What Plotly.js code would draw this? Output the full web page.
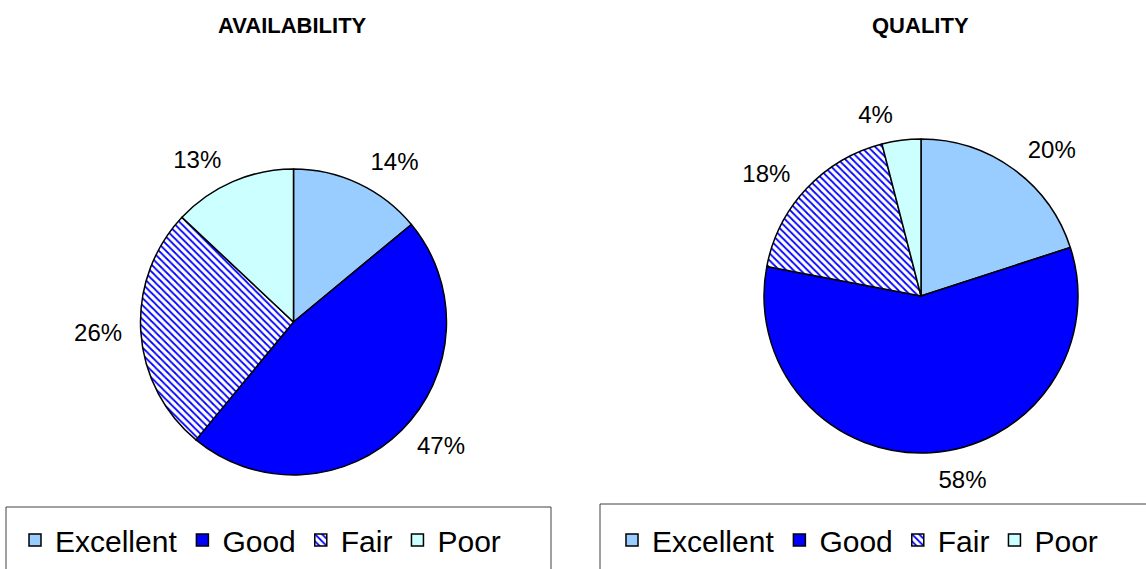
<!DOCTYPE html>
<html>
<head>
<meta charset="utf-8">
<script src="https://cdn.plot.ly/plotly-3.0.1.min.js"></script>
<style>html,body{margin:0;padding:0;background:#fff;}#chart{width:1146px;height:569px;}</style>
</head>
<body>
<div id="chart"></div>
<script>
const categories = ["Excellent", "Good", "Fair", "Poor"];
const availabilityValues = [14, 47, 26, 13];
const qualityValues = [20, 58, 18, 4];
const chartTitles = ["AVAILABILITY", "QUALITY"];

const W = 1146, H = 569;
const px = x => x / W;
const py = y => (H - y) / H;

const sliceColors = ["#99ccff", "#0000ff", "#ffffff", "#ccffff"];
const FONT = "Liberation Sans, Arial, sans-serif";

function domainOf(cx, cy, r) {
  return {x: [px(cx - r), px(cx + r)], y: [py(cy + r), py(cy - r)]};
}

// visible pie: slices, outline, legend
function pieTrace(values, cx, cy, r, legendId, group) {
  return {
    type: "pie",
    labels: categories,
    values: values,
    sort: false,
    direction: "clockwise",
    rotation: 0,
    textinfo: "none",
    hoverinfo: "label+percent",
    marker: {
      colors: sliceColors,
      pattern: {shape: ["", "", "\\", ""], fgcolor: "#0000ff", size: 5, solidity: 0.35},
      line: {color: "#000", width: 1.5}
    },
    domain: domainOf(cx, cy, r),
    legend: legendId,
    legendgroup: group,
    showlegend: true
  };
}

// transparent, slightly larger pie that only carries the outside percent labels
function labelTrace(values, cx, cy, r) {
  return {
    type: "pie",
    labels: categories,
    values: values,
    sort: false,
    direction: "clockwise",
    rotation: 0,
    textinfo: "percent",
    textposition: "outside",
    texttemplate: "%{percent:.0%}",
    outsidetextfont: {family: FONT, size: 24, color: "#000"},
    hoverinfo: "skip",
    marker: {colors: ["rgba(0,0,0,0)", "rgba(0,0,0,0)", "rgba(0,0,0,0)", "rgba(0,0,0,0)"], line: {width: 0}},
    domain: domainOf(cx, cy, r),
    showlegend: false
  };
}

const data = [
  labelTrace(availabilityValues, 293.5, 322, 165),
  labelTrace(qualityValues, 921, 296, 170),
  pieTrace(availabilityValues, 293.5, 322, 153, "legend", "availability"),
  pieTrace(qualityValues, 921, 296, 157, "legend2", "quality")
];

const legendBase = {
  orientation: "h",
  traceorder: "normal",
  xanchor: "left",
  yanchor: "middle",
  font: {family: FONT, size: 30, color: "#000"},
  bgcolor: "rgba(0,0,0,0)",
  borderwidth: 0
};

const layout = {
  width: W, height: H,
  margin: {l: 0, r: 0, t: 0, b: 0},
  paper_bgcolor: "#fff",
  font: {family: FONT},
  legend: Object.assign({}, legendBase, {x: px(15), y: py(540)}),
  legend2: Object.assign({}, legendBase, {x: px(612), y: py(540)}),
  shapes: [
    {type: "rect", xref: "paper", yref: "paper", x0: px(6), x1: px(551), y0: py(507), y1: py(600),
     line: {color: "#404040", width: 1}, fillcolor: "rgba(0,0,0,0)", layer: "below"},
    {type: "rect", xref: "paper", yref: "paper", x0: px(600), x1: px(1160), y0: py(504), y1: py(600),
     line: {color: "#404040", width: 1}, fillcolor: "rgba(0,0,0,0)", layer: "below"}
  ],
  annotations: [
    {text: "<b>" + chartTitles[0] + "</b>", xref: "paper", yref: "paper", x: px(292), y: py(25),
     xanchor: "center", yanchor: "middle", showarrow: false, font: {family: FONT, size: 22, color: "#000"}},
    {text: "<b>" + chartTitles[1] + "</b>", xref: "paper", yref: "paper", x: px(920), y: py(25),
     xanchor: "center", yanchor: "middle", showarrow: false, font: {family: FONT, size: 22, color: "#000"}}
  ]
};

Plotly.newPlot("chart", data, layout, {displayModeBar: false, staticPlot: true});
</script>
</body>
</html>
